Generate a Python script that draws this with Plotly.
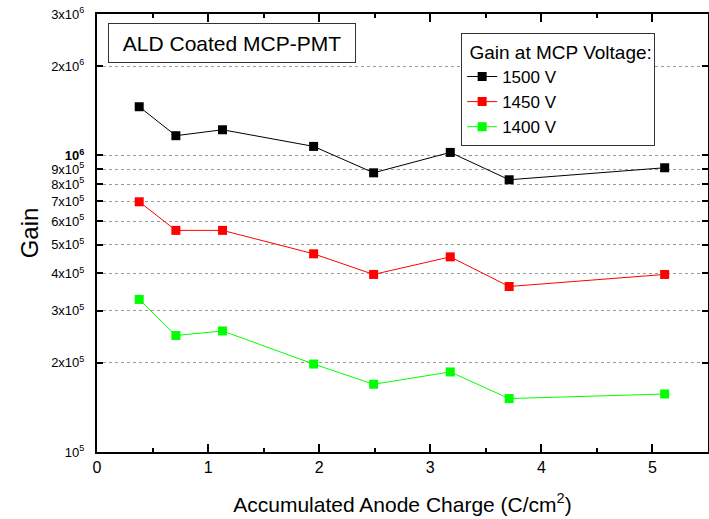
import numpy as np
import plotly.graph_objects as go

charge = [0.38, 0.71, 1.13, 1.95, 2.49, 3.18, 3.71, 5.11]
gain_1500 = [1.46e6, 1.166e6, 1.221e6, 1.073e6, 8.74e5, 1.024e6, 8.28e5, 9.09e5]
gain_1450 = [6.98e5, 5.59e5, 5.59e5, 4.66e5, 3.97e5, 4.55e5, 3.615e5, 3.97e5]
gain_1400 = [3.27e5, 2.47e5, 2.56e5, 1.98e5, 1.692e5, 1.862e5, 1.514e5, 1.569e5]

series_names = ["1500 V", "1450 V", "1400 V"]
series_colors = ["#000000", "#ff0000", "#00ff00"]

y_tickvals = [1e5, 2e5, 3e5, 4e5, 5e5, 6e5, 7e5, 8e5, 9e5, 1e6, 2e6, 3e6]
y_ticktext = ["10<sup>5</sup>", "2x10<sup>5</sup>", "3x10<sup>5</sup>", "4x10<sup>5</sup>",
              "5x10<sup>5</sup>", "6x10<sup>5</sup>", "7x10<sup>5</sup>", "8x10<sup>5</sup>",
              "9x10<sup>5</sup>", "<b>10<sup>6</sup></b>", "2x10<sup>6</sup>", "3x10<sup>6</sup>"]
x_tickvals = [0, 1, 2, 3, 4, 5]

FONT = "Liberation Sans, Arial, sans-serif"

fig = go.Figure()
for name, col, vals in zip(series_names, series_colors, [gain_1500, gain_1450, gain_1400]):
    fig.add_trace(go.Scatter(
        x=charge, y=vals, name=name, mode="lines+markers",
        line=dict(color=col, width=1),
        marker=dict(symbol="square", size=9, color=col, line=dict(width=0)),
    ))

fig.update_layout(
    width=709, height=519,
    margin=dict(l=97, r=1, t=14, b=67),
    paper_bgcolor="white", plot_bgcolor="white",
    font=dict(family=FONT, color="black"),
    showlegend=True,
    legend=dict(
        x=0.596, y=0.956, xanchor="left", yanchor="top",
        bordercolor="#333333", borderwidth=1, bgcolor="white",
        font=dict(size=17, family=FONT),
        title=dict(text="\u00a0Gain at MCP Voltage:", font=dict(size=19, family=FONT)),
        tracegroupgap=0, entrywidth=170, entrywidthmode="pixels",
    ),
    annotations=[dict(
        text="ALD Coated MCP-PMT", xref="paper", yref="paper",
        x=0.2206, y=0.933, xanchor="center", yanchor="middle",
        showarrow=False, font=dict(size=21, family=FONT),
        bordercolor="#333333", borderwidth=1, borderpad=1,
        width=244, height=36, bgcolor="white",
    )],
)

fig.update_xaxes(
    range=[0, 5.5], tickvals=x_tickvals, ticks="inside", ticklen=8, tickwidth=1.5,
    tickcolor="black", showline=True, linewidth=2, linecolor="black", mirror="ticks",
    showgrid=False, zeroline=False, tickfont=dict(size=16), automargin=False,
    minor=dict(tickvals=[0.5, 1.5, 2.5, 3.5, 4.5], ticks="inside", ticklen=4, tickwidth=1.5, tickcolor="black"),
    title=dict(text="Accumulated Anode Charge (C/cm<sup>2</sup>)", font=dict(size=21), standoff=22),
)
fig.update_yaxes(
    type="log", range=[5, np.log10(3e6)], tickvals=y_tickvals, ticktext=y_ticktext,
    ticks="inside", ticklen=6, tickwidth=1.5, tickcolor="black",
    showline=True, linewidth=2, linecolor="black", mirror="ticks",
    showgrid=True, gridcolor="#999999", griddash="dot", gridwidth=1,
    zeroline=False, tickfont=dict(size=13), ticklabelstandoff=8, automargin=False,
    title=dict(text="Gain", font=dict(size=24), standoff=6),
)

fig.write_html("out.html", config={"displayModeBar": False},
               post_script="document.body.style.margin='0';document.body.style.overflow='hidden';")
